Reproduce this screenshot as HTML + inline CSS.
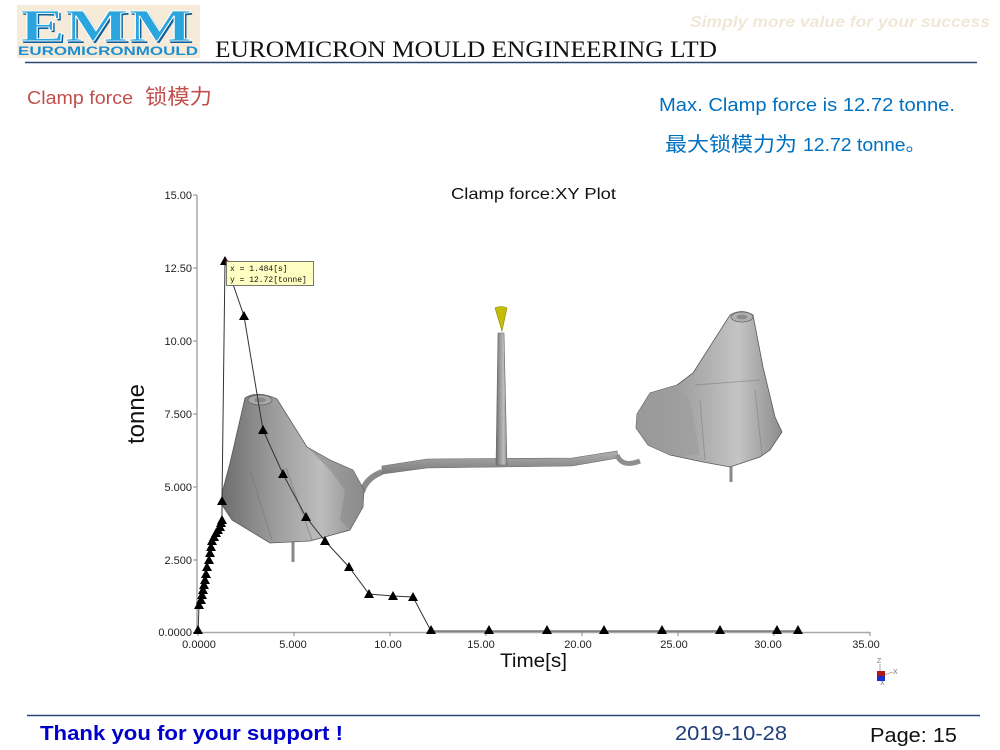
<!DOCTYPE html>
<html><head><meta charset="utf-8"><style>
html,body{margin:0;padding:0;background:#fff;}
svg{display:block;}
</style></head><body>
<svg width="1000" height="750" viewBox="0 0 1000 750" xmlns="http://www.w3.org/2000/svg">
<defs>
<linearGradient id="g1" x1="0" y1="0" x2="1" y2="0">
<stop offset="0" stop-color="#6e6e6e"/><stop offset="0.35" stop-color="#9a9a9a"/><stop offset="0.7" stop-color="#bdbdbd"/><stop offset="1" stop-color="#8a8a8a"/></linearGradient>
<linearGradient id="g2" x1="0" y1="0" x2="1" y2="0">
<stop offset="0" stop-color="#8a8a8a"/><stop offset="0.4" stop-color="#a8a8a8"/><stop offset="0.7" stop-color="#c4c4c4"/><stop offset="1" stop-color="#8c8c8c"/></linearGradient>
<linearGradient id="g3" x1="0" y1="0" x2="0" y2="1">
<stop offset="0" stop-color="#b0b0b0"/><stop offset="1" stop-color="#7a7a7a"/></linearGradient>
</defs>

<!-- Header -->
<rect x="17" y="5" width="183" height="53" fill="#f6ebd9"/>
<text x="22" y="43" font-family="Liberation Serif, serif" font-weight="bold" font-size="46" fill="#0d5f9c" textLength="172" lengthAdjust="spacingAndGlyphs">EMM</text>
<text x="20" y="41" font-family="Liberation Serif, serif" font-weight="bold" font-size="46" fill="#2aa5de" stroke="#ffffff" stroke-width="0.8" textLength="172" lengthAdjust="spacingAndGlyphs">EMM</text>
<text x="18" y="55" font-family="Liberation Sans, sans-serif" font-weight="bold" font-size="12" fill="#1d8fd0" textLength="180" lengthAdjust="spacingAndGlyphs">EUROMICRONMOULD</text>
<text x="215" y="57" font-family="Liberation Serif, serif" font-size="23" fill="#111" textLength="502" lengthAdjust="spacingAndGlyphs">EUROMICRON MOULD  ENGINEERING LTD</text>
<text x="690" y="27" font-family="Liberation Sans, sans-serif" font-weight="bold" font-style="italic" font-size="16" fill="#efe8d6" textLength="300" lengthAdjust="spacingAndGlyphs">Simply  more value for your success</text>
<line x1="25" y1="62.5" x2="977" y2="62.5" stroke="#2b4774" stroke-width="1.6"/>

<text x="27" y="104" font-family="Liberation Sans, sans-serif" font-size="18" fill="#c0504d" textLength="106" lengthAdjust="spacingAndGlyphs">Clamp force</text>
<text x="145" y="104" font-family="Liberation Sans, 'Noto Sans CJK SC', sans-serif" font-size="21" fill="#c0504d" textLength="67" lengthAdjust="spacingAndGlyphs">锁模力</text>

<text x="659" y="111" font-family="Liberation Sans, sans-serif" font-size="18" fill="#0070c0" textLength="296" lengthAdjust="spacingAndGlyphs">Max. Clamp force is 12.72 tonne.</text>
<text x="665" y="151" font-family="Liberation Sans, 'Noto Sans CJK SC', sans-serif" font-size="20" fill="#0070c0" textLength="132" lengthAdjust="spacingAndGlyphs">最大锁模力为</text>
<text x="803" y="151" font-family="Liberation Sans, 'Noto Sans CJK SC', sans-serif" font-size="18" fill="#0070c0" textLength="122" lengthAdjust="spacingAndGlyphs">12.72 tonne。</text>

<!-- Chart title -->
<text x="451" y="199" font-family="Liberation Sans, sans-serif" font-size="16" fill="#111" textLength="165" lengthAdjust="spacingAndGlyphs">Clamp force:XY Plot</text>

<!-- 3D parts: runner -->
<path d="M362,492 Q366,478 382,472" fill="none" stroke="#8a8a8a" stroke-width="6"/>
<path d="M382,466 L427,459 L572,458 L617,451 L618,458 L572,466 L427,468 L382,474 Z" fill="url(#g3)" stroke="#6a6a6a" stroke-width="0.6"/>
<path d="M617,455 Q622,468 640,461" fill="none" stroke="#8f8f8f" stroke-width="5"/>
<path d="M496,465 L498,333 L504,333 L507,465 Z" fill="url(#g1)" stroke="#666" stroke-width="0.6"/>
<path d="M495,308 Q501,305 507,308 L502,331 Z" fill="#c4bd08" stroke="#8d8800" stroke-width="0.6"/>

<!-- Left part -->
<line x1="293" y1="540" x2="293" y2="562" stroke="#8a8a8a" stroke-width="3"/>
<path d="M245,398 Q258,390 277,399 L307,447 L330,460 L353,470 L364,490 L363,507 L350,530 L310,541 L270,543 L232,520 L222,505 L222,493 L230,463 Z" fill="url(#g1)" stroke="#5a5a5a" stroke-width="0.8"/>
<path d="M307,447 L330,460 L353,470 L364,490 L363,507 L350,530 L340,520 L345,490 L330,470 Z" fill="#8c8c8c" opacity="0.6"/>
<path d="M250,470 L272,540 M286,468 L312,540 M232,470 L240,520" stroke="#777" stroke-width="1" fill="none" opacity="0.6"/>
<ellipse cx="260" cy="400" rx="12" ry="5" fill="#a9a9a9" stroke="#666" stroke-width="0.8"/>
<ellipse cx="260" cy="400" rx="6" ry="2.5" fill="#8a8a8a"/>

<!-- Right part -->
<line x1="731" y1="462" x2="731" y2="482" stroke="#8a8a8a" stroke-width="3"/>
<path d="M730,315 Q742,308 753,315 L763,367 L775,417 L782,432 L770,450 L760,457 L730,467 L703,462 L670,455 L648,445 L636,428 L637,414 L650,393 L677,385 L693,373 Z" fill="url(#g2)" stroke="#5a5a5a" stroke-width="0.8"/>
<path d="M636,428 L637,414 L650,393 L677,385 L690,400 L700,455 L670,455 L648,445 Z" fill="#9e9e9e" opacity="0.7"/>
<path d="M700,400 L705,460 M755,390 L762,455 M695,385 L760,380" stroke="#777" stroke-width="1" fill="none" opacity="0.5"/>
<ellipse cx="742" cy="317" rx="11" ry="5" fill="#b0b0b0" stroke="#666" stroke-width="0.8"/>
<ellipse cx="742" cy="317" rx="5.5" ry="2.3" fill="#8a8a8a"/>

<!-- Axes -->
<line x1="197" y1="195" x2="197" y2="632.5" stroke="#a8a8a8" stroke-width="1.5"/>
<line x1="197" y1="632.5" x2="870" y2="632.5" stroke="#a8a8a8" stroke-width="1.5"/>
<g stroke="#888" stroke-width="1">
<line x1="193" y1="195" x2="197" y2="195"/><line x1="193" y1="268" x2="197" y2="268"/><line x1="193" y1="341" x2="197" y2="341"/><line x1="193" y1="414" x2="197" y2="414"/><line x1="193" y1="487" x2="197" y2="487"/><line x1="193" y1="560" x2="197" y2="560"/><line x1="193" y1="632.5" x2="197" y2="632.5"/>
<line x1="198" y1="632" x2="198" y2="636"/><line x1="294" y1="632" x2="294" y2="636"/><line x1="390" y1="632" x2="390" y2="636"/><line x1="486" y1="632" x2="486" y2="636"/><line x1="582" y1="632" x2="582" y2="636"/><line x1="678" y1="632" x2="678" y2="636"/><line x1="774" y1="632" x2="774" y2="636"/><line x1="870" y1="632" x2="870" y2="636"/>
</g>
<g font-family="Liberation Sans, sans-serif" font-size="11" fill="#222" text-anchor="end">
<text x="192" y="199">15.00</text><text x="192" y="272">12.50</text><text x="192" y="345">10.00</text><text x="192" y="418">7.500</text><text x="192" y="491">5.000</text><text x="192" y="564">2.500</text><text x="192" y="636">0.0000</text>
</g>
<g font-family="Liberation Sans, sans-serif" font-size="11" fill="#222" text-anchor="middle">
<text x="199" y="648">0.0000</text><text x="293" y="648">5.000</text><text x="388" y="648">10.00</text><text x="481" y="648">15.00</text><text x="578" y="648">20.00</text><text x="674" y="648">25.00</text><text x="768" y="648">30.00</text><text x="866" y="648">35.00</text>
</g>
<text transform="translate(144,414) rotate(-90)" font-family="Liberation Sans, sans-serif" font-size="24" fill="#111" text-anchor="middle">tonne</text>
<text x="500" y="667" font-family="Liberation Sans, sans-serif" font-size="19" fill="#111" textLength="67" lengthAdjust="spacingAndGlyphs">Time[s]</text>

<!-- Data line -->
<polyline fill="none" stroke="#333" stroke-width="1" points="198,632 199,606 200,601 202,596 203,591 204,585 205,580 206,574 207,567 208,561 209,555 210,549 211,543 213,540 215,535 217,531 219,528 221,525 222,521 222,501 225,261 244,316 263,430 283,474 306,517 325,541 349,567 369,594 393,596 413,597 431,631 798,631"/>
<g fill="#000">
<path id="t" d="M0,-5 L5,4 L-5,4 Z" transform="translate(198,630)"/>
<path d="M0,-5 L5,4 L-5,4 Z" transform="translate(199,605)"/>
<path d="M0,-5 L5,4 L-5,4 Z" transform="translate(201,600)"/>
<path d="M0,-5 L5,4 L-5,4 Z" transform="translate(202,595)"/>
<path d="M0,-5 L5,4 L-5,4 Z" transform="translate(203,590)"/>
<path d="M0,-5 L5,4 L-5,4 Z" transform="translate(204,585)"/>
<path d="M0,-5 L5,4 L-5,4 Z" transform="translate(205,580)"/>
<path d="M0,-5 L5,4 L-5,4 Z" transform="translate(206,574)"/>
<path d="M0,-5 L5,4 L-5,4 Z" transform="translate(207,567)"/>
<path d="M0,-5 L5,4 L-5,4 Z" transform="translate(209,560)"/>
<path d="M0,-5 L5,4 L-5,4 Z" transform="translate(210,553)"/>
<path d="M0,-5 L5,4 L-5,4 Z" transform="translate(211,547)"/>
<path d="M0,-5 L5,4 L-5,4 Z" transform="translate(212,541)"/>
<path d="M0,-5 L5,4 L-5,4 Z" transform="translate(214,537)"/>
<path d="M0,-5 L5,4 L-5,4 Z" transform="translate(216,533)"/>
<path d="M0,-5 L5,4 L-5,4 Z" transform="translate(218,530)"/>
<path d="M0,-5 L5,4 L-5,4 Z" transform="translate(220,527)"/>
<path d="M0,-5 L5,4 L-5,4 Z" transform="translate(221,523)"/>
<path d="M0,-5 L5,4 L-5,4 Z" transform="translate(222,520)"/>
<path d="M0,-5 L5,4 L-5,4 Z" transform="translate(222,501)"/>
<path d="M0,-5 L5,4 L-5,4 Z" transform="translate(225,261)"/>
<path d="M0,-5 L5,4 L-5,4 Z" transform="translate(244,316)"/>
<path d="M0,-5 L5,4 L-5,4 Z" transform="translate(263,430)"/>
<path d="M0,-5 L5,4 L-5,4 Z" transform="translate(283,474)"/>
<path d="M0,-5 L5,4 L-5,4 Z" transform="translate(306,517)"/>
<path d="M0,-5 L5,4 L-5,4 Z" transform="translate(325,541)"/>
<path d="M0,-5 L5,4 L-5,4 Z" transform="translate(349,567)"/>
<path d="M0,-5 L5,4 L-5,4 Z" transform="translate(369,594)"/>
<path d="M0,-5 L5,4 L-5,4 Z" transform="translate(393,596)"/>
<path d="M0,-5 L5,4 L-5,4 Z" transform="translate(413,597)"/>
<path d="M0,-5 L5,4 L-5,4 Z" transform="translate(431,630)"/>
<path d="M0,-5 L5,4 L-5,4 Z" transform="translate(489,630)"/>
<path d="M0,-5 L5,4 L-5,4 Z" transform="translate(547,630)"/>
<path d="M0,-5 L5,4 L-5,4 Z" transform="translate(604,630)"/>
<path d="M0,-5 L5,4 L-5,4 Z" transform="translate(662,630)"/>
<path d="M0,-5 L5,4 L-5,4 Z" transform="translate(720,630)"/>
<path d="M0,-5 L5,4 L-5,4 Z" transform="translate(777,630)"/>
<path d="M0,-5 L5,4 L-5,4 Z" transform="translate(798,630)"/>
</g>
<circle cx="227.5" cy="262.5" r="2" fill="#e01010"/>
<!-- tooltip -->
<rect x="226.5" y="261.5" width="87" height="24" fill="#ffffc4" stroke="#555" stroke-width="0.8"/>
<text x="230" y="271" font-family="Liberation Mono, monospace" font-size="8" fill="#111">x = 1.484[s]</text>
<text x="230" y="282" font-family="Liberation Mono, monospace" font-size="8" fill="#111">y = 12.72[tonne]</text>

<!-- axis triad -->
<g font-family="Liberation Sans, sans-serif" font-size="7" fill="#777">
<text x="877" y="663">Z</text><text x="893" y="674">X</text><text x="880" y="685">X</text>
</g>
<line x1="880" y1="664" x2="880" y2="672" stroke="#999" stroke-width="0.8"/>
<line x1="884" y1="675" x2="893" y2="672" stroke="#999" stroke-width="0.8"/>
<rect x="877" y="671" width="8" height="5" fill="#b01818"/>
<rect x="877" y="676" width="8" height="5" fill="#1a2fd0"/>

<!-- Footer -->
<line x1="27" y1="715.5" x2="980" y2="715.5" stroke="#2b4774" stroke-width="1.4"/>
<text x="40" y="740" font-family="Liberation Sans, sans-serif" font-weight="bold" font-size="20" fill="#0000cc" textLength="303" lengthAdjust="spacingAndGlyphs">Thank you for your support !</text>
<text x="675" y="740" font-family="Liberation Sans, sans-serif" font-size="20" fill="#1f3d7a" textLength="112" lengthAdjust="spacingAndGlyphs">2019-10-28</text>
<text x="870" y="742" font-family="Liberation Sans, sans-serif" font-size="20" fill="#111" textLength="87" lengthAdjust="spacingAndGlyphs">Page: 15</text>
</svg>
</body></html>
